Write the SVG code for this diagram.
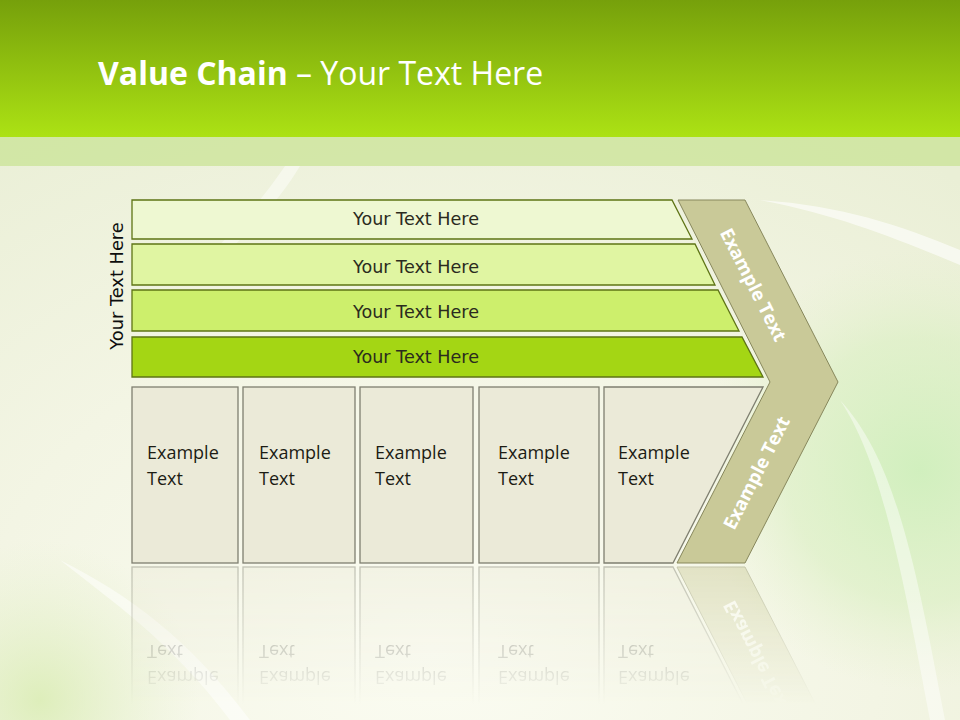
<svg xmlns="http://www.w3.org/2000/svg" xmlns:xlink="http://www.w3.org/1999/xlink" width="960" height="720" viewBox="0 0 960 720">
<defs>
<linearGradient id="hdr" x1="0" y1="0" x2="0" y2="1">
<stop offset="0" stop-color="#76a00b"/>
<stop offset="1" stop-color="#ace214"/>
</linearGradient>
<radialGradient id="bg" cx="0.45" cy="0.9" r="0.85">
<stop offset="0" stop-color="#fbfcf2"/>
<stop offset="0.55" stop-color="#f3f5e4"/>
<stop offset="1" stop-color="#eaefd6"/>
</radialGradient>
<radialGradient id="greenR" cx="920" cy="470" r="220" gradientUnits="userSpaceOnUse">
<stop offset="0" stop-color="#cfefbc" stop-opacity="0.95"/>
<stop offset="0.6" stop-color="#d8efc0" stop-opacity="0.6"/>
<stop offset="1" stop-color="#e4f0cc" stop-opacity="0"/>
</radialGradient>
<radialGradient id="greenL" cx="40" cy="700" r="160" gradientUnits="userSpaceOnUse">
<stop offset="0" stop-color="#d8ecb0" stop-opacity="0.8"/>
<stop offset="1" stop-color="#e4f0cc" stop-opacity="0"/>
</radialGradient>
<linearGradient id="fade" gradientUnits="userSpaceOnUse" x1="0" y1="565" x2="0" y2="705">
<stop offset="0" stop-color="#fff" stop-opacity="0.45"/>
<stop offset="1" stop-color="#fff" stop-opacity="0"/>
</linearGradient>
<mask id="reflMask" maskUnits="userSpaceOnUse" x="0" y="565" width="960" height="155">
<rect x="0" y="565" width="960" height="155" fill="url(#fade)"/>
</mask>
<style>
.bar{stroke:#5e7415;stroke-width:1.3}
.bartxt{font-family:"DejaVu Sans",Verdana,sans-serif;font-size:17.6px;fill:#2b2b1e;text-anchor:middle}
.box{fill:#ebead8;stroke:#7f7f70;stroke-width:1.3}
.boxtxt{font-family:"Open Sans","Liberation Sans",sans-serif;font-size:18px;fill:#1c1c14}
.chev{fill:#c9c998;stroke:#87875c;stroke-width:1}
.chevtxt{font-family:"Open Sans","Liberation Sans",sans-serif;font-size:18.5px;font-weight:bold;fill:#ffffff;text-anchor:middle}
</style>
</defs>

<!-- background -->
<rect x="0" y="0" width="960" height="720" fill="url(#bg)"/>
<rect x="600" y="166" width="360" height="554" fill="url(#greenR)"/>
<rect x="0" y="500" width="260" height="220" fill="url(#greenL)"/>
<path d="M760,200 C840,215 900,240 960,265 L960,250 C900,225 840,205 760,200 Z" fill="#ffffff" opacity="0.6"/>
<path d="M840,400 C880,460 900,560 930,720 L945,720 C915,560 895,460 840,400 Z" fill="#ffffff" opacity="0.45"/>
<path d="M300,166 C280,200 250,230 220,260 L205,260 C235,230 262,200 285,166 Z" fill="#ffffff" opacity="0.45"/>
<path d="M60,560 C110,600 170,640 230,720 L250,720 C190,640 130,595 60,560 Z" fill="#ffffff" opacity="0.5"/>

<!-- header -->
<rect x="0" y="0" width="960" height="137" fill="url(#hdr)"/>
<rect x="0" y="137" width="960" height="29" fill="#c7e391" opacity="0.7"/>
<text x="98" y="85" font-family="'Open Sans','Liberation Sans',sans-serif" font-size="32" fill="#ffffff"><tspan font-weight="bold">Value Chain</tspan> – Your Text Here</text>

<!-- side label -->
<g id="side-label">
<text transform="translate(122.5,286) rotate(-90)" font-family="'DejaVu Sans',Verdana,sans-serif" font-size="17.8" fill="#0d0d0d" text-anchor="middle">Your Text Here</text>
</g>

<!-- bars -->
<g id="bar1">
<polygon class="bar" points="132,200 672,200 692,239 132,239" fill="#eef8d2"/>
<text class="bartxt" x="416" y="225">Your Text Here</text>
</g>
<g id="bar2">
<polygon class="bar" points="132,244 695,244 715,285 132,285" fill="#e0f5a2"/>
<text class="bartxt" x="416" y="273">Your Text Here</text>
</g>
<g id="bar3">
<polygon class="bar" points="132,290 718,290 739,331 132,331" fill="#cdef6c"/>
<text class="bartxt" x="416" y="318">Your Text Here</text>
</g>
<g id="bar4">
<polygon class="bar" points="132,337 742,337 763,377 132,377" fill="#a4d614"/>
<text class="bartxt" x="416" y="363">Your Text Here</text>
</g>

<!-- lower part (reflected below) -->
<g id="lower">
<g id="chevron">
<polygon class="chev" points="678,200 745,200 838,382 745,563 677,563 770,382"/>
<text class="chevtxt" transform="translate(753,285) rotate(63)" dy="6">Example Text</text>
<text class="chevtxt" transform="translate(757,473) rotate(-63)" dy="6">Example Text</text>
</g>
<g id="box1">
<rect class="box" x="132" y="387" width="106" height="176"/>
<text class="boxtxt" x="147" y="459">Example</text>
<text class="boxtxt" x="147" y="485">Text</text>
</g>
<g id="box2">
<rect class="box" x="243" y="387" width="112" height="176"/>
<text class="boxtxt" x="259" y="459">Example</text>
<text class="boxtxt" x="259" y="485">Text</text>
</g>
<g id="box3">
<rect class="box" x="360" y="387" width="113" height="176"/>
<text class="boxtxt" x="375" y="459">Example</text>
<text class="boxtxt" x="375" y="485">Text</text>
</g>
<g id="box4">
<rect class="box" x="479" y="387" width="120" height="176"/>
<text class="boxtxt" x="498" y="459">Example</text>
<text class="boxtxt" x="498" y="485">Text</text>
</g>
<g id="box5">
<polygon class="box" points="604,387 763,387 673,563 604,563"/>
<text class="boxtxt" x="618" y="459">Example</text>
<text class="boxtxt" x="618" y="485">Text</text>
</g>
</g>

<!-- reflection -->
<g id="reflection" mask="url(#reflMask)">
<use xlink:href="#lower" href="#lower" transform="translate(0,1130) scale(1,-1)"/>
</g>
</svg>
